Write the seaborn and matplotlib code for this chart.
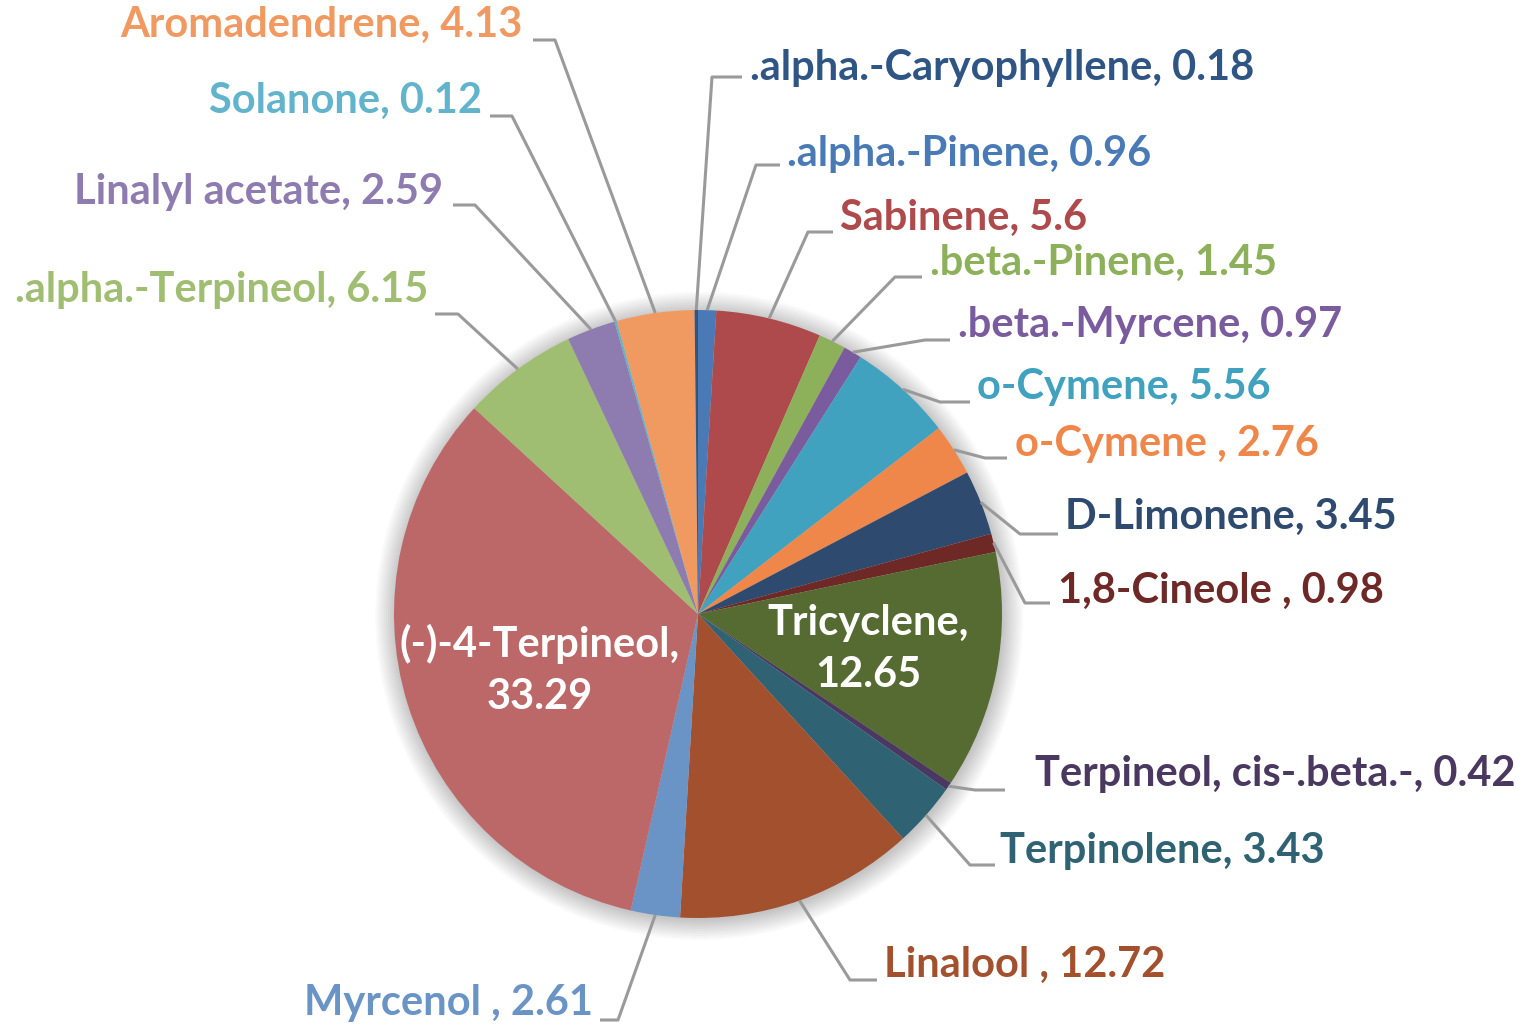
import numpy as np
import seaborn as sns
import matplotlib
matplotlib.use("Agg")
import matplotlib.pyplot as plt
from matplotlib.patches import Circle

# ---------------- data (clockwise from 12 o'clock) ----------------
COMPOUNDS = [
    ".alpha.-Pinene", "Sabinene", ".beta.-Pinene", ".beta.-Myrcene",
    "o-Cymene", "o-Cymene ", "D-Limonene", "1,8-Cineole ", "Tricyclene",
    "Terpineol, cis-.beta.-", "Terpinolene", "Linalool ", "Myrcenol ",
    "(-)-4-Terpineol", ".alpha.-Terpineol", "Linalyl acetate", "Solanone",
    "Aromadendrene", ".alpha.-Caryophyllene",
]
PERCENT = [0.96, 5.6, 1.45, 0.97, 5.56, 2.76, 3.45, 0.98, 12.65,
           0.42, 3.43, 12.72, 2.61, 33.29, 6.15, 2.59, 0.12, 4.13, 0.18]
SLICE_COLORS = [
    "#4A7AB6", "#AE4A4B", "#8DB05A", "#7A5C9E", "#40A2BE", "#F0874A",
    "#2E4A6E", "#6E2826", "#556B32", "#4A3860", "#2F6272", "#A2502E",
    "#6A93C6", "#BD6868", "#A0BE72", "#8E7BB0", "#62B4CC", "#F09A62",
    "#2F5585",
]

# ---------------- layout (pixels of the 1523x1027 image) ----------------
W, H = 1523, 1027
CX, CY, R = 698, 614, 304
INSIDE = {"Tricyclene": (868, 649), "(-)-4-Terpineol": (540, 670)}
# name -> (text x, text y, side, line y, elbow x, line end x)
OUTSIDE = {
    ".alpha.-Caryophyllene": (750, 68, "L", 77, 712, 742),
    ".alpha.-Pinene": (787, 154, "L", 165, 756, 780),
    "Sabinene": (840, 218, "L", 232, 808, 833),
    ".beta.-Pinene": (930, 263, "L", 277, 895, 922),
    ".beta.-Myrcene": (958, 325, "L", 340, 925, 950),
    "o-Cymene": (977, 387, "L", 402, 940, 970),
    "o-Cymene ": (1015, 444, "L", 458, 985, 1007),
    "D-Limonene": (1065, 517, "L", 534, 1020, 1058),
    "1,8-Cineole ": (1058, 591, "L", 603, 1025, 1050),
    "Terpineol, cis-.beta.-": (1035, 774, "L", 790, 975, 1005),
    "Terpinolene": (1000, 851, "L", 865, 970, 995),
    "Linalool ": (884, 965, "L", 980, 850, 877),
    "Myrcenol ": (593, 1003, "R", 1020, 618, 600),
    ".alpha.-Terpineol": (428, 290, "R", 314, 458, 435),
    "Linalyl acetate": (443, 192, "R", 205, 475, 453),
    "Solanone": (482, 101, "R", 116, 512, 490),
    "Aromadendrene": (523, 25, "R", 40, 555, 533),
}


def px(x, y):
    return (x - CX) / R, (CY - y) / R


sns.set_theme(style="white")
plt.rcParams["font.family"] = ["Lato", "DejaVu Sans"]

fig = plt.figure(figsize=(W / 100, H / 100), dpi=100)
ax = fig.add_axes([0, 0, 1, 1])

# soft outer shadow like the office chart
for k in range(12):
    ax.add_patch(Circle((0.004, -0.006), 1.0 + 0.006 * k, color="#000000",
                        alpha=0.018, lw=0, zorder=0))

wedges, _ = ax.pie(PERCENT, colors=SLICE_COLORS, startangle=90,
                   counterclock=False, radius=1.0,
                   wedgeprops=dict(linewidth=0, zorder=2))

FS = 30
for w, name, val, col in zip(wedges, COMPOUNDS, PERCENT, SLICE_COLORS):
    label = f"{name}, {val:g}"
    if name in INSIDE:
        tx, ty = px(*INSIDE[name])
        ax.text(tx, ty, f"{name},\n{val:g}", color="white", fontsize=FS,
                fontweight="bold", ha="center", va="center",
                linespacing=1.45, zorder=5)
        continue
    x, y, side, ly, ex, lx = OUTSIDE[name]
    mid = np.deg2rad((w.theta1 + w.theta2) / 2)
    sx, sy = np.cos(mid), np.sin(mid)
    e = px(ex, ly)
    l = px(lx, ly)
    ax.plot([sx, e[0], l[0]], [sy, e[1], l[1]], color="#9A9A9A", lw=2.2,
            solid_capstyle="butt", zorder=3)
    tx, ty = px(x, y)
    ax.text(tx, ty, label, color=col, fontsize=FS, fontweight="bold",
            ha="left" if side == "L" else "right", va="center", zorder=5)

ax.set_xlim(-CX / R, (W - CX) / R)
ax.set_ylim((CY - H) / R, CY / R)
ax.set_aspect("auto")
ax.axis("off")

fig.savefig("out.png", dpi=100, facecolor="white")
